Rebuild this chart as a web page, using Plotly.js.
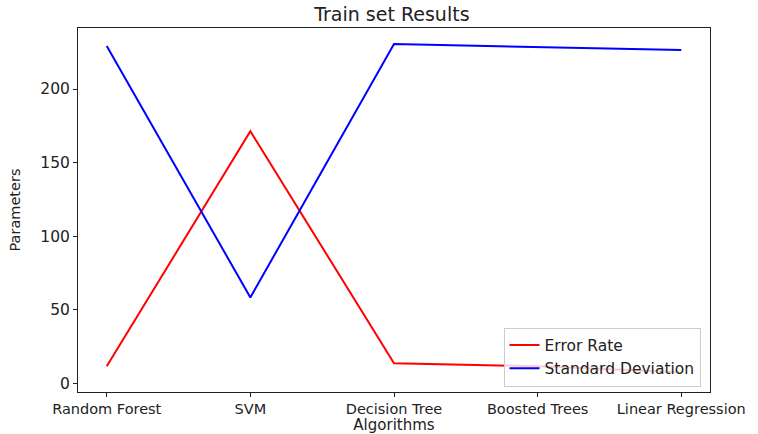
<!DOCTYPE html>
<html>
<head>
<meta charset="utf-8">
<script src="https://cdn.plot.ly/plotly-3.0.1.min.js"></script>
<style>html,body{margin:0;padding:0;background:#fff;}#chart{width:758px;height:434px;}</style>
</head>
<body>
<div id="chart"></div>
<script>
const algorithms = ["Random Forest", "SVM", "Decision Tree", "Boosted Trees", "Linear Regression"];
const errorRate = [11.5, 171.3, 13.6, 11.5, 7.5];
const stdDeviation = [229.2, 58.3, 230.6, 228.5, 226.5];

const font = "DejaVu Sans, sans-serif";
const traces = [
  {x: algorithms, y: errorRate, type: "scatter", mode: "lines", name: "Error Rate",
   line: {color: "#ff0000", width: 2}},
  {x: algorithms, y: stdDeviation, type: "scatter", mode: "lines", name: "Standard Deviation",
   line: {color: "#0000ff", width: 2}}
];
const layout = {
  width: 758, height: 434,
  margin: {l: 78, r: 48, t: 28, b: 42},
  paper_bgcolor: "#fff", plot_bgcolor: "#fff",
  font: {family: font, size: 12, color: "#222"},
  title: {text: "Train set Results", font: {family: font, size: 19, color: "#222"}, x: 0.517, xanchor: "center", y: 0.967, yanchor: "middle"},
  xaxis: {
    range: [-0.2, 4.2], showgrid: false, zeroline: false,
    showline: true, mirror: true, linecolor: "#222", linewidth: 1,
    ticks: "outside", ticklen: 4, tickcolor: "#222",
    tickfont: {family: font, size: 14.5, color: "#222"},
    title: {text: "Algorithms", font: {family: font, size: 15, color: "#222"}, standoff: 0}
  },
  yaxis: {
    range: [-6, 241.5], showgrid: false, zeroline: false,
    showline: true, mirror: true, linecolor: "#222", linewidth: 1,
    ticks: "outside", ticklen: 4, tickcolor: "#222",
    tickvals: [0, 50, 100, 150, 200],
    tickfont: {family: font, size: 15.5, color: "#222"},
    title: {text: "Parameters", font: {family: font, size: 14.5, color: "#222"}, standoff: 16}
  },
  showlegend: true,
  legend: {x: 0.985, y: 0.015, xanchor: "right", yanchor: "bottom",
    bgcolor: "rgba(255,255,255,0.8)", bordercolor: "#cccccc", borderwidth: 1,
    font: {family: font, size: 15.5, color: "#222"}, tracegroupgap: 0}
};
Plotly.newPlot("chart", traces, layout, {displayModeBar: false, staticPlot: true});
</script>
</body>
</html>
